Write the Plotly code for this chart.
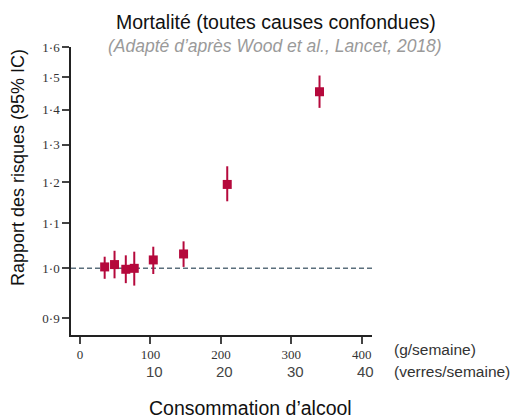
import plotly.graph_objects as go
import math

# Data
consumption_g = [35, 49, 65, 77, 104, 147, 209, 340]
hazard_ratio = [1.003, 1.008, 0.998, 1.000, 1.018, 1.031, 1.195, 1.455]
ci_low = [0.978, 0.979, 0.969, 0.964, 0.988, 1.003, 1.153, 1.406]
ci_high = [1.025, 1.038, 1.028, 1.036, 1.047, 1.059, 1.242, 1.506]

y_tick_vals = [0.9, 1.0, 1.1, 1.2, 1.3, 1.4, 1.5, 1.6]
y_tick_text = ["0·9", "1·0", "1·1", "1·2", "1·3", "1·4", "1·5", "1·6"]
x_tick_vals = [0, 100, 200, 300, 400]
x_tick_text = ["0", "100", "200", "300", "400"]
drinks_labels = [10, 20, 30, 40]
grams_per_drink = 10

title_text = "Mortalité (toutes causes confondues)"
subtitle_text = "(Adapté d’après Wood et al., Lancet, 2018)"
y_title = "Rapport des risques (95% IC)"
x_title = "Consommation d’alcool"
unit_g = "(g/semaine)"
unit_drinks = "(verres/semaine)"

MARK = "#b5093c"
SANS = "Liberation Sans, Arial, sans-serif"
SERIF = "Liberation Serif, Times New Roman, serif"

err_plus = [h - v for h, v in zip(ci_high, hazard_ratio)]
err_minus = [v - l for v, l in zip(hazard_ratio, ci_low)]

fig = go.Figure()
fig.add_shape(type="line", xref="paper", yref="y", x0=0, x1=1, y0=1.0, y1=1.0,
              line=dict(color="#5b6f7c", width=1.5, dash="5px,3px"), layer="below")
fig.add_trace(go.Scatter(
    x=consumption_g, y=hazard_ratio, mode="markers",
    marker=dict(symbol="square", size=9, color=MARK),
    error_y=dict(type="data", array=err_plus, arrayminus=err_minus,
                 color=MARK, thickness=2, width=0),
    showlegend=False, hoverinfo="skip"))

fig.update_xaxes(range=[-12.8, 414.5], tickvals=x_tick_vals, ticktext=x_tick_text,
                 ticks="outside", ticklen=7, tickwidth=2, tickcolor="#444",
                 showline=True, linecolor="#222", linewidth=1.5, showgrid=False,
                 zeroline=False, tickfont=dict(family=SERIF, size=13, color="#333"))
fig.update_yaxes(type="log", range=[math.log10(0.868), math.log10(1.6)],
                 tickvals=y_tick_vals, ticktext=y_tick_text,
                 ticks="outside", ticklen=7, tickwidth=1.5, tickcolor="#444",
                 showline=True, linecolor="#222", linewidth=1.5, showgrid=False,
                 zeroline=False, tickfont=dict(family=SERIF, size=13, color="#333"))

L, R, T, B = 71, 141, 47, 84
W, H = 513, 419
pw, ph = W - L - R, H - T - B
def px(x):
    return (x - L) / pw
def py(y):
    return (H - B - y) / ph

ann = []
for d in drinks_labels:
    ann.append(dict(x=d * grams_per_drink, y=0, xref="x", yref="paper", text=str(d),
                    showarrow=False, xanchor="center", yanchor="middle",
                    xshift=4, yshift=-36, font=dict(family=SANS, size=15, color="#444")))
ann.append(dict(x=px(392), y=py(349), xref="paper", yref="paper", text=unit_g, showarrow=False,
                xanchor="left", yanchor="middle", font=dict(family=SANS, size=15.5, color="#333")))
ann.append(dict(x=px(392), y=py(371), xref="paper", yref="paper", text=unit_drinks, showarrow=False,
                xanchor="left", yanchor="middle", font=dict(family=SANS, size=15.5, color="#333")))
ann.append(dict(x=px(250), y=py(408), xref="paper", yref="paper", text=x_title, showarrow=False,
                xanchor="center", yanchor="middle", font=dict(family=SANS, size=19.5, color="#111")))
ann.append(dict(x=px(18), y=py(168), xref="paper", yref="paper", text=y_title, showarrow=False,
                textangle=-90, xanchor="center", yanchor="middle",
                font=dict(family=SANS, size=18, color="#111")))
ann.append(dict(x=px(276), y=py(22), xref="paper", yref="paper", text=title_text, showarrow=False,
                xanchor="center", yanchor="middle", font=dict(family=SANS, size=19.5, color="#111")))
ann.append(dict(x=px(275), y=py(46), xref="paper", yref="paper", text="<i>" + subtitle_text + "</i>",
                showarrow=False, xanchor="center", yanchor="middle",
                font=dict(family=SANS, size=17.5, color="#9a9a9a")))

fig.update_layout(width=W, height=H, margin=dict(l=L, r=R, t=T, b=B),
                  paper_bgcolor="white", plot_bgcolor="white", annotations=ann)
fig.write_html("out.html", config={"displayModeBar": False},
               post_script="document.body.style.margin='0px';document.body.style.overflow='hidden';")
